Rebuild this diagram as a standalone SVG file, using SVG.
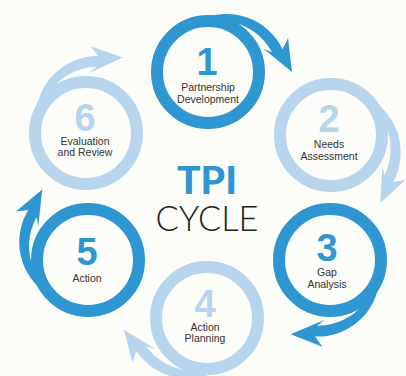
<svg xmlns="http://www.w3.org/2000/svg" xmlns:xlink="http://www.w3.org/1999/xlink" width="406" height="376" viewBox="0 0 406 376">
  <style>
    .ring { fill: none; stroke-width: 12; }
    .ring.dark { stroke: #2e96d0; }
    .ring.light { stroke: #b7d6ee; }
    .arrow.dark { fill: #2e96d0; }
    .arrow.light { fill: #b7d6ee; }
    .num { font-family: "Liberation Sans", Arial, sans-serif; font-weight: bold; font-size: 38px; text-anchor: middle; }
    .num.dark { fill: #2e96d0; }
    .num.light { fill: #b7d6ee; }
    .lbl { font-family: "Liberation Sans", Arial, sans-serif; font-size: 10.5px; fill: #333333; text-anchor: middle; }
  </style>
  <defs>
    <!-- spiral band leaving the ring clockwise, ending in a barbed arrowhead; drawn around a ring centred at 0,0 -->
    <path id="spiral-arrow" d="M -4.6,-52.8 A 61.9 61.9 0 0 1 75.3,-20.2 L 81.2,-31.2 L 83.9,2.9 L 56,-21.5 L 64.7,-17.3 A 59.5 59.5 0 0 0 23.2,-49.8 L 20.3,-43.5 L -4.2,-47.8 Z"/>
  </defs>

  <rect width="406" height="376" fill="#fcfcf8"/>

  <!-- curved arrows carrying the cycle from one step to the next -->
  <g id="connectors">
    <use xlink:href="#spiral-arrow" class="arrow dark" transform="translate(208,72) rotate(-2)"/>
    <use xlink:href="#spiral-arrow" class="arrow light" transform="translate(331,135) rotate(52)"/>
    <use xlink:href="#spiral-arrow" class="arrow dark" transform="translate(330,260) rotate(116)"/>
    <use xlink:href="#spiral-arrow" class="arrow light" transform="translate(207,318) rotate(170)"/>
    <use xlink:href="#spiral-arrow" class="arrow dark" transform="translate(88,260) rotate(235)"/>
    <use xlink:href="#spiral-arrow" class="arrow light" transform="translate(86,133) rotate(294)"/>
  </g>

  <g id="step-1">
    <circle class="ring dark" cx="208" cy="72" r="51"/>
    <text class="num dark" x="207" y="75">1</text>
    <text class="lbl" x="208" y="91">Partnership</text>
    <text class="lbl" x="208" y="103">Development</text>
  </g>

  <g id="step-2">
    <circle class="ring light" cx="331" cy="135" r="51"/>
    <text class="num light" x="329" y="132">2</text>
    <text class="lbl" x="329" y="148">Needs</text>
    <text class="lbl" x="329" y="159.5">Assessment</text>
  </g>

  <g id="step-3">
    <circle class="ring dark" cx="330" cy="260" r="51"/>
    <text class="num dark" x="327" y="260.5">3</text>
    <text class="lbl" x="327" y="276">Gap</text>
    <text class="lbl" x="327" y="287.5">Analysis</text>
  </g>

  <g id="step-4">
    <circle class="ring light" cx="207" cy="318" r="51"/>
    <text class="num light" x="205" y="317">4</text>
    <text class="lbl" x="205" y="331">Action</text>
    <text class="lbl" x="205" y="342">Planning</text>
  </g>

  <g id="step-5">
    <circle class="ring dark" cx="88" cy="260" r="51"/>
    <text class="num dark" x="87" y="265">5</text>
    <text class="lbl" x="87" y="282">Action</text>
  </g>

  <g id="step-6">
    <circle class="ring light" cx="86" cy="133" r="51"/>
    <text class="num light" x="85" y="131">6</text>
    <text class="lbl" x="85" y="144.5">Evaluation</text>
    <text class="lbl" x="85" y="156">and Review</text>
  </g>

  <g id="title">
    <text x="207" y="194" font-family="Lato, 'Liberation Sans', sans-serif" font-weight="900" font-size="37" fill="#2e96d0" text-anchor="middle" textLength="60" lengthAdjust="spacingAndGlyphs">TPI</text>
    <text x="207" y="230.5" font-family="Lato, 'Liberation Sans', sans-serif" font-weight="300" font-size="36" fill="#222222" text-anchor="middle" textLength="103" lengthAdjust="spacingAndGlyphs">CYCLE</text>
  </g>
</svg>
